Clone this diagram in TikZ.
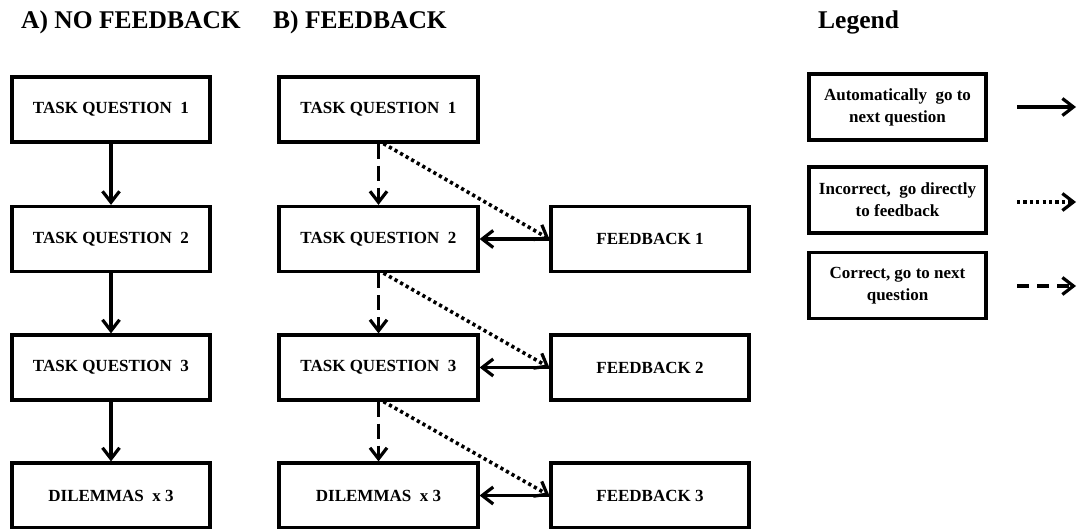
\documentclass[tikz,border=0pt]{standalone}
\usepackage{fontspec}
\setmainfont{Liberation Serif}
\usetikzlibrary{arrows.meta}
\begin{document}
\begin{tikzpicture}[x=1pt,y=-1pt,
  box/.style={draw=black,line width=3.2pt,fill=white,inner sep=0pt,
    minimum width=198pt,minimum height=65pt,align=center,
    font=\fontsize{17}{22}\selectfont\bfseries},
  legbox/.style={box,minimum width=177pt,minimum height=66pt},
  title/.style={anchor=base west,inner sep=0pt,font=\fontsize{25.5}{30}\selectfont\bfseries},
  conn/.style={line width=3.2pt,-{Straight Barb[length=11pt,width=17pt,line width=3.2pt]}},
  dashconn/.style={conn,dash pattern=on 15pt off 7pt},
  dotconn/.style={conn,line width=3.6pt,dash pattern=on 3.2pt off 3.2pt},
  legdash/.style={conn,dash pattern=on 12pt off 8pt}]
\useasboundingbox (0,0) rectangle (1078,529);

% titles
\node[title] (tA) at (21,29) {A) NO FEEDBACK};
\node[title] (tB) at (273,29) {B) FEEDBACK};
\node[title] (tL) at (818,29) {Legend};

% column A
\node[box] (A1) at (111,109.5) {TASK QUESTION\enspace 1};
\node[box] (A2) at (111,239) {TASK QUESTION\enspace 2};
\node[box] (A3) at (111,367.5) {TASK QUESTION\enspace 3};
\node[box] (A4) at (111,495.5) {DILEMMAS\enspace x 3};

% column B
\node[box,minimum width=199pt] (B1) at (378.5,109.5) {TASK QUESTION\enspace 1};
\node[box,minimum width=199pt] (B2) at (378.5,239) {TASK QUESTION\enspace 2};
\node[box,minimum width=199pt] (B3) at (378.5,367.5) {TASK QUESTION\enspace 3};
\node[box,minimum width=199pt] (B4) at (378.5,495.5) {DILEMMAS\enspace x 3};

% feedback
\node[box] (F1) at (650,239) {FEEDBACK 1};
\node[box] (F2) at (650,367.5) {FEEDBACK 2};
\node[box] (F3) at (650,495.5) {FEEDBACK 3};

% legend
\node[legbox] (L1) at (897.5,107) {Automatically\enspace go to\\next question};
\node[legbox] (L2) at (897.5,200) {Incorrect,\enspace go directly\\to feedback};
\node[legbox] (L3) at (897.5,285.5) {Correct, go to next\\question};

\coordinate (a1s) at (1017,107);  \coordinate (a1e) at (1076,107);
\coordinate (a2s) at (1017,202);  \coordinate (a2e) at (1076,202);
\coordinate (a3s) at (1017,286);  \coordinate (a3e) at (1076,286);

% connectors A
\draw[conn] (A1.south) -- (A2.north);
\draw[conn] (A2.south) -- (A3.north);
\draw[conn] (A3.south) -- (A4.north);

% connectors B
\draw[dashconn] (B1.south) -- (B2.north);
\draw[dashconn] (B2.south) -- (B3.north);
\draw[dashconn] (B3.south) -- (B4.north);
\draw[dotconn] ([xshift=5pt]B1.south) -- (F1.west);
\draw[dotconn] ([xshift=5pt]B2.south) -- (F2.west);
\draw[dotconn] ([xshift=5pt]B3.south) -- (F3.west);
\draw[conn] (F1.west) -- (B2.east);
\draw[conn] (F2.west) -- (B3.east);
\draw[conn] (F3.west) -- (B4.east);

% legend arrows
\draw[conn] (a1s) -- (a1e);
\draw[dotconn] (a2s) -- (a2e);
\draw[legdash] (a3s) -- (a3e);
\end{tikzpicture}
\end{document}
